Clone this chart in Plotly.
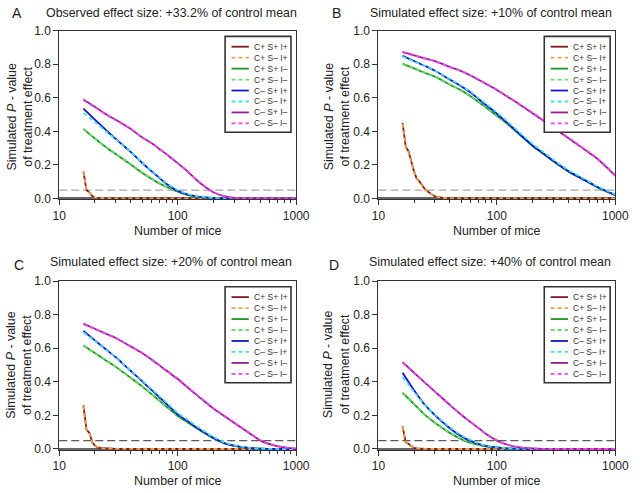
import plotly.graph_objects as go

# ---------------- data ----------------
N_MICE = [16, 20, 25, 30, 40, 50, 60, 70, 80, 100, 120, 150, 200, 250, 300, 400, 500, 700, 1000]
N_MICE_LOW = [16, 17, 18, 19, 20, 21, 22, 25, 30, 35, 40, 50, 100, 1000]

SERIES_NAMES = ["C+ S+ I+", "C+ S\u2013 I+", "C+ S+ I\u2013", "C+ S\u2013 I\u2013",
                "C\u2013 S+ I+", "C\u2013 S\u2013 I+", "C\u2013 S+ I\u2013", "C\u2013 S\u2013 I\u2013"]
SERIES_COLORS = ["#7a1c1c", "#f2a04c", "#1e961e", "#66dd66",
                 "#1414c8", "#3ee0f0", "#951e95", "#f044f0"]
SERIES_DASHED = [False, True, False, True, False, True, False, True]

PANEL_LETTERS = ["A", "B", "C", "D"]
PANEL_TITLES = ["Observed effect size: +33.2% of control mean",
                "Simulated effect size: +10% of control mean",
                "Simulated effect size: +20% of control mean",
                "Simulated effect size: +40% of control mean"]
ALPHA = 0.05
Y_TICKS = [0.0, 0.2, 0.4, 0.6, 0.8, 1.0]
X_TICKS = [10, 100, 1000]

# Panel A
A_CP_SP_IP = [0.16, 0.05, 0.035, 0.015, 0.005, 0.003, 0.002, 0.001, 0, 0, 0, 0, 0, 0]
A_CP_SM_IP = [0.158, 0.052, 0.034, 0.016, 0.006, 0.003, 0.002, 0.001, 0, 0, 0, 0, 0, 0]
A_CP_SP_IM = [0.415, 0.357, 0.304, 0.265, 0.204, 0.154, 0.118, 0.09, 0.07, 0.04, 0.022, 0.009, 0.003, 0.001, 0, 0, 0, 0, 0]
A_CP_SM_IM = [0.412, 0.356, 0.304, 0.266, 0.206, 0.156, 0.12, 0.092, 0.072, 0.042, 0.023, 0.01, 0.003, 0.001, 0, 0, 0, 0, 0]
A_CM_SP_IP = [0.535, 0.47, 0.405, 0.355, 0.278, 0.213, 0.163, 0.123, 0.088, 0.045, 0.024, 0.01, 0.003, 0.001, 0, 0, 0, 0, 0]
A_CM_SM_IP = [0.51, 0.455, 0.398, 0.352, 0.278, 0.215, 0.166, 0.127, 0.093, 0.05, 0.028, 0.012, 0.004, 0.001, 0, 0, 0, 0, 0]
A_CM_SP_IM = [0.59, 0.546, 0.50, 0.469, 0.415, 0.365, 0.33, 0.295, 0.265, 0.21, 0.164, 0.10, 0.037, 0.012, 0.004, 0.001, 0, 0, 0]
A_CM_SM_IM = [0.585, 0.543, 0.498, 0.467, 0.414, 0.364, 0.33, 0.296, 0.266, 0.212, 0.165, 0.102, 0.038, 0.013, 0.004, 0.001, 0, 0, 0]

# Panel B
B_CP_SP_IP = [0.45, 0.31, 0.28, 0.21, 0.16, 0.12, 0.105, 0.05, 0.012, 0.003, 0.001, 0, 0, 0]
B_CP_SM_IP = [0.445, 0.315, 0.275, 0.215, 0.155, 0.125, 0.1, 0.048, 0.013, 0.003, 0.001, 0, 0, 0]
B_CP_SP_IM = [0.802, 0.775, 0.747, 0.726, 0.679, 0.644, 0.609, 0.575, 0.545, 0.492, 0.45, 0.39, 0.313, 0.263, 0.221, 0.161, 0.124, 0.068, 0.019]
B_CP_SM_IM = [0.8, 0.774, 0.747, 0.727, 0.681, 0.646, 0.612, 0.578, 0.548, 0.495, 0.453, 0.393, 0.316, 0.266, 0.224, 0.164, 0.127, 0.07, 0.02]
B_CM_SP_IP = [0.85, 0.819, 0.788, 0.761, 0.709, 0.669, 0.631, 0.593, 0.56, 0.505, 0.456, 0.394, 0.316, 0.265, 0.223, 0.163, 0.126, 0.07, 0.02]
B_CM_SM_IP = [0.845, 0.816, 0.787, 0.762, 0.712, 0.673, 0.636, 0.599, 0.567, 0.513, 0.465, 0.403, 0.325, 0.274, 0.231, 0.17, 0.132, 0.074, 0.024]
B_CM_SP_IM = [0.873, 0.853, 0.834, 0.819, 0.784, 0.759, 0.733, 0.707, 0.685, 0.647, 0.611, 0.567, 0.508, 0.461, 0.422, 0.36, 0.312, 0.238, 0.135]
B_CM_SM_IM = [0.87, 0.851, 0.833, 0.818, 0.784, 0.759, 0.734, 0.709, 0.687, 0.649, 0.613, 0.57, 0.511, 0.464, 0.425, 0.363, 0.315, 0.241, 0.138]

# Panel C
C_CP_SP_IP = [0.26, 0.115, 0.095, 0.04, 0.02, 0.01, 0.006, 0.002, 0.0005, 0, 0, 0, 0, 0]
C_CP_SM_IP = [0.255, 0.118, 0.093, 0.042, 0.019, 0.011, 0.006, 0.002, 0.0005, 0, 0, 0, 0, 0]
C_CP_SP_IM = [0.617, 0.572, 0.526, 0.489, 0.424, 0.373, 0.327, 0.288, 0.253, 0.197, 0.16, 0.116, 0.064, 0.033, 0.019, 0.006, 0.002, 0, 0]
C_CP_SM_IM = [0.615, 0.571, 0.526, 0.49, 0.426, 0.375, 0.33, 0.291, 0.256, 0.2, 0.163, 0.119, 0.066, 0.034, 0.02, 0.006, 0.002, 0, 0]
C_CM_SP_IP = [0.703, 0.647, 0.591, 0.546, 0.466, 0.404, 0.352, 0.308, 0.27, 0.206, 0.168, 0.12, 0.066, 0.034, 0.02, 0.006, 0.002, 0, 0]
C_CM_SM_IP = [0.695, 0.643, 0.589, 0.546, 0.468, 0.408, 0.358, 0.315, 0.278, 0.215, 0.176, 0.128, 0.072, 0.038, 0.022, 0.007, 0.002, 0, 0]
C_CM_SP_IM = [0.747, 0.716, 0.686, 0.661, 0.611, 0.572, 0.533, 0.498, 0.467, 0.417, 0.369, 0.312, 0.241, 0.194, 0.155, 0.096, 0.05, 0.016, 0.002]
C_CM_SM_IM = [0.744, 0.714, 0.685, 0.66, 0.611, 0.573, 0.535, 0.5, 0.469, 0.42, 0.372, 0.315, 0.244, 0.197, 0.158, 0.098, 0.052, 0.017, 0.002]

# Panel D
D_CP_SP_IP = [0.135, 0.04, 0.03, 0.015, 0.006, 0.003, 0.002, 0.001, 0, 0, 0, 0, 0, 0]
D_CP_SM_IP = [0.132, 0.042, 0.029, 0.016, 0.007, 0.003, 0.002, 0.001, 0, 0, 0, 0, 0, 0]
D_CP_SP_IM = [0.335, 0.267, 0.2, 0.156, 0.096, 0.059, 0.037, 0.024, 0.016, 0.008, 0.004, 0.001, 0, 0, 0, 0, 0, 0, 0]
D_CP_SM_IM = [0.332, 0.266, 0.2, 0.157, 0.098, 0.061, 0.039, 0.025, 0.017, 0.008, 0.004, 0.001, 0, 0, 0, 0, 0, 0, 0]
D_CM_SP_IP = [0.454, 0.35, 0.258, 0.202, 0.124, 0.076, 0.048, 0.03, 0.018, 0.009, 0.004, 0.001, 0, 0, 0, 0, 0, 0, 0]
D_CM_SM_IP = [0.43, 0.34, 0.258, 0.205, 0.13, 0.082, 0.053, 0.033, 0.02, 0.01, 0.005, 0.001, 0, 0, 0, 0, 0, 0, 0]
D_CM_SP_IM = [0.517, 0.454, 0.392, 0.342, 0.263, 0.204, 0.16, 0.125, 0.092, 0.05, 0.028, 0.011, 0.003, 0.001, 0, 0, 0, 0, 0]
D_CM_SM_IM = [0.514, 0.452, 0.391, 0.342, 0.264, 0.205, 0.161, 0.126, 0.093, 0.052, 0.029, 0.012, 0.003, 0.001, 0, 0, 0, 0, 0]

PANEL_DATA = [
    [A_CP_SP_IP, A_CP_SM_IP, A_CP_SP_IM, A_CP_SM_IM, A_CM_SP_IP, A_CM_SM_IP, A_CM_SP_IM, A_CM_SM_IM],
    [B_CP_SP_IP, B_CP_SM_IP, B_CP_SP_IM, B_CP_SM_IM, B_CM_SP_IP, B_CM_SM_IP, B_CM_SP_IM, B_CM_SM_IM],
    [C_CP_SP_IP, C_CP_SM_IP, C_CP_SP_IM, C_CP_SM_IM, C_CM_SP_IP, C_CM_SM_IP, C_CM_SP_IM, C_CM_SM_IM],
    [D_CP_SP_IP, D_CP_SM_IP, D_CP_SP_IM, D_CP_SM_IM, D_CM_SP_IP, D_CM_SM_IP, D_CM_SP_IM, D_CM_SM_IM],
]
ALPHA_COLORS = ["#a8a8a8", "#a8a8a8", "#5a5a5a", "#5a5a5a"]

# ---------------- layout helpers ----------------
W, H = 640, 493
FONT = "Arial, 'Liberation Sans', sans-serif"
TXT = "#222222"
DASH = "4px,3px"

def px(x):
    return x / W

def py(y):
    return 1 - y / H

# plot areas in pixels: (left, right, top, bottom)
AREAS = [(54, 299, 24.3, 197.7), (384, 629, 24.3, 197.7),
         (54, 299, 281.5, 455), (384, 629, 281.5, 455)]
LETTER_POS = [(10, 6.5), (340.5, 6.5), (12.5, 265.5), (338.5, 265.5)]
TITLE_POS = [(170.3, 6), (500, 6), (169.3, 261.5), (499.3, 261.5)]
YTITLE_POS = [(13, 113), (341, 112.5), (13, 368), (341, 367)]
XTITLE_POS = [(176.7, 230), (506.7, 230), (176.7, 486.5), (506.3, 486.5)]

fig = go.Figure()
shapes = []
annotations = []
layout = dict(
    width=W, height=H,
    margin=dict(l=0, r=0, t=0, b=0),
    paper_bgcolor="white", plot_bgcolor="white",
    showlegend=False,
    font=dict(family=FONT, color=TXT),
)

minor_vals = [m * d for d in (10, 100) for m in range(2, 10)]

for p in range(4):
    sfx = "" if p == 0 else str(p + 1)
    xa, ya = "x" + sfx, "y" + sfx
    l, r, t, b = AREAS[p]
    layout["xaxis" + sfx] = dict(
        type="log", range=[1, 3], domain=[px(l), px(r)], anchor=ya,
        tickvals=X_TICKS, ticktext=[str(v) for v in X_TICKS],
        ticks="outside", ticklen=5, tickwidth=1, tickcolor="#333",
        minor=dict(tickvals=minor_vals, ticks="outside", ticklen=3, tickcolor="#333", showgrid=False),
        showgrid=False, zeroline=False,
        showline=True, linecolor="#333", linewidth=1, mirror=True,
        tickfont=dict(size=12, color=TXT, family=FONT),
    )
    layout["yaxis" + sfx] = dict(
        range=[-0.006, 1.0], domain=[py(b), py(t)], anchor=xa,
        tickvals=Y_TICKS, ticktext=["%.1f" % v for v in Y_TICKS],
        ticks="outside", ticklen=5, tickwidth=1, tickcolor="#333",
        showgrid=False, zeroline=True, zerolinecolor="#666", zerolinewidth=2.2,
        showline=True, linecolor="#333", linewidth=1, mirror=True,
        tickfont=dict(size=12, color=TXT, family=FONT),
    )

    for i, vals in enumerate(PANEL_DATA[p]):
        xs = N_MICE_LOW if i < 2 else N_MICE
        fig.add_trace(go.Scatter(
            x=xs, y=vals, mode="lines", name=SERIES_NAMES[i],
            xaxis=xa, yaxis=ya, hoverinfo="skip",
            line=dict(color=SERIES_COLORS[i], width=1.8,
                      dash=DASH if SERIES_DASHED[i] else "solid",
                      shape="linear" if i < 2 else "spline", smoothing=0.8),
        ))

    shapes.append(dict(type="line", xref=xa + " domain", yref=ya, x0=0, x1=1, y0=ALPHA, y1=ALPHA,
                       line=dict(color=ALPHA_COLORS[p], width=1.3, dash="8px,4px"), layer="below"))

    shapes.append(dict(type="rect", xref=xa + " domain", yref=ya + " domain",
                       x0=0.70, x1=0.978, y0=0.398, y1=0.966,
                       line=dict(color="#333", width=1.6), fillcolor="white", layer="above"))
    for i, name in enumerate(SERIES_NAMES):
        yy = 0.905 - i * 0.0649
        shapes.append(dict(type="line", xref=xa + " domain", yref=ya + " domain",
                           x0=0.727, x1=0.800, y0=yy, y1=yy, layer="above",
                           line=dict(color=SERIES_COLORS[i], width=1.8,
                                     dash=DASH if SERIES_DASHED[i] else "solid")))
        annotations.append(dict(xref=xa + " domain", yref=ya + " domain", x=0.812, y=yy,
                                text=name, showarrow=False, xanchor="left", yanchor="middle",
                                font=dict(size=8.5, color="#333", family=FONT)))

    lx, ly = LETTER_POS[p]
    annotations.append(dict(xref="paper", yref="paper", x=px(lx), y=py(ly), text=PANEL_LETTERS[p],
                            showarrow=False, xanchor="center", yanchor="middle",
                            font=dict(size=14, color=TXT, family=FONT)))
    tx, ty = TITLE_POS[p]
    annotations.append(dict(xref="paper", yref="paper", x=px(tx), y=py(ty), text=PANEL_TITLES[p],
                            showarrow=False, xanchor="center", yanchor="middle",
                            font=dict(size=12.4, color=TXT, family=FONT)))
    yx, yy_ = YTITLE_POS[p]
    annotations.append(dict(xref="paper", yref="paper", x=px(yx), y=py(yy_),
                            text="Simulated <i>P</i> - value<br>of treatment effect",
                            showarrow=False, xanchor="center", yanchor="middle", textangle=-90,
                            font=dict(size=12.4, color=TXT, family=FONT)))
    xx, xy = XTITLE_POS[p]
    annotations.append(dict(xref="paper", yref="paper", x=px(xx), y=py(xy), text="Number of mice",
                            showarrow=False, xanchor="center", yanchor="middle",
                            font=dict(size=12.4, color=TXT, family=FONT)))

layout["shapes"] = shapes
layout["annotations"] = annotations
fig.update_layout(**layout)
fig.write_html(
    "out.html",
    config={"displayModeBar": False, "responsive": False},
    post_script="document.body.style.margin='0';document.body.style.padding='0';"
                "document.documentElement.style.overflow='hidden';",
)
